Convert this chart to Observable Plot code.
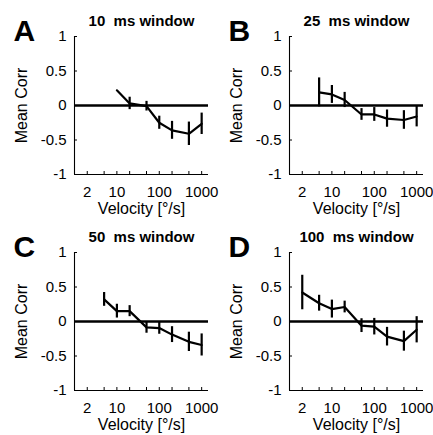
<!DOCTYPE html>
<html><head><meta charset="utf-8">
<script src="https://cdn.jsdelivr.net/npm/d3@7"></script>
<script src="https://cdn.jsdelivr.net/npm/@observablehq/plot@0.6"></script>
<style>
body{margin:0;background:#fff;}
#wrap{position:relative;width:433px;height:435px;overflow:hidden;background:#fff;}
.panel{position:absolute;}
svg text{white-space:pre;}
</style></head><body><div id="wrap"></div>
<script>
const velocities = [2, 5, 10, 20, 50, 100, 200, 500, 1000];
const xTicks = [2, 5, 10, 20, 50, 100, 200, 500, 1000];
const xTickLabels = [2, 10, 100, 1000];
const yTicks = [-1, -0.5, 0, 0.5, 1];
const panelLetters = ["A", "B", "C", "D"];
const panelTitles = ["10  ms window", "25  ms window", "50  ms window", "100  ms window"];
const xLabel = "Velocity [°/s]";
const yLabel = "Mean Corr";

// mean correlation per velocity (null = no point)
const meanA = [null, null, 0.22, 0.03, -0.01, -0.25, -0.36, -0.41, -0.265];
const errA  = [null, null, null, 0.09, 0.07, 0.095, 0.13, 0.17, 0.155];
const meanB = [null, 0.19, 0.16, 0.08, -0.13, -0.13, -0.19, -0.21, -0.16];
const errB  = [null, 0.21, 0.13, 0.11, 0.085, 0.1, 0.125, 0.135, 0.15];
const meanC = [null, 0.32, 0.15, 0.15, -0.085, -0.095, -0.19, -0.295, -0.34];
const errC  = [null, 0.1, 0.1, 0.08, 0.085, 0.09, 0.115, 0.14, 0.16];
const meanD = [0.42, 0.265, 0.18, 0.21, -0.06, -0.075, -0.22, -0.285, -0.12];
const errD  = [0.25, 0.115, 0.13, 0.085, 0.1, 0.12, 0.135, 0.145, 0.19];

const means = [meanA, meanB, meanC, meanD];
const errs = [errA, errB, errC, errD];

const font = "'Liberation Sans', Arial, Helvetica, sans-serif";
const positions = [[0, 0], [215, 0], [0, 216], [215, 216]];

function makePanel(i) {
  const data = velocities.map((v, j) => ({v, m: means[i][j], e: errs[i][j]})).filter(d => d.m != null);
  const bars = data.filter(d => d.e != null);
  return Plot.plot({
    width: 216, height: 219,
    marginLeft: 74, marginRight: 8, marginTop: 36, marginBottom: 45,
    style: {fontFamily: font, fontSize: "15px", color: "#000", background: "transparent", overflow: "visible"},
    x: {type: "log", domain: [1, 1450]},
    y: {domain: [-1, 1]},
    marks: [
      Plot.axisX(xTicks, {tickSize: -3, tickPadding: 0, tickFormat: () => "", label: null}),
      Plot.text(xTickLabels, {x: d => d, text: d => String(d), frameAnchor: "bottom", dy: 12, textAnchor: "middle", lineAnchor: "top", fontSize: 15}),
      Plot.axisY(yTicks, {tickSize: -3, tickPadding: 11, fontSize: 15, tickFormat: d => String(d), label: null}),
      Plot.ruleY([-1], {stroke: "#000", strokeWidth: 1.1}),
      Plot.ruleX([1], {stroke: "#000", strokeWidth: 1.1}),
      Plot.ruleY([0], {stroke: "#000", strokeWidth: 2.5}),
      Plot.line(data, {x: "v", y: "m", stroke: "#000", strokeWidth: 2.2}),
      Plot.ruleX(bars, {x: "v", y1: d => d.m - d.e, y2: d => d.m + d.e, stroke: "#000", strokeWidth: 2.2}),
      Plot.text([panelLetters[i]], {text: d => d, frameAnchor: "top-left", dx: -61, dy: -5, textAnchor: "start", lineAnchor: "middle", fontSize: 30, fontWeight: "bold"}),
      Plot.text([panelTitles[i]], {text: d => d, frameAnchor: "top", dy: -15, textAnchor: "middle", lineAnchor: "middle", fontSize: 15, fontWeight: "bold"}),
      Plot.text([xLabel], {text: d => d, frameAnchor: "bottom", dy: 34, textAnchor: "middle", lineAnchor: "middle", fontSize: 16}),
      Plot.text([yLabel], {text: d => d, frameAnchor: "left", dx: -53, rotate: -90, textAnchor: "middle", lineAnchor: "middle", fontSize: 16})
    ]
  });
}

const wrap = document.getElementById("wrap");
for (let i = 0; i < 4; i++) {
  const div = document.createElement("div");
  div.className = "panel";
  div.style.left = positions[i][0] + "px";
  div.style.top = positions[i][1] + "px";
  div.appendChild(makePanel(i));
  wrap.appendChild(div);
}
</script>
</body></html>
